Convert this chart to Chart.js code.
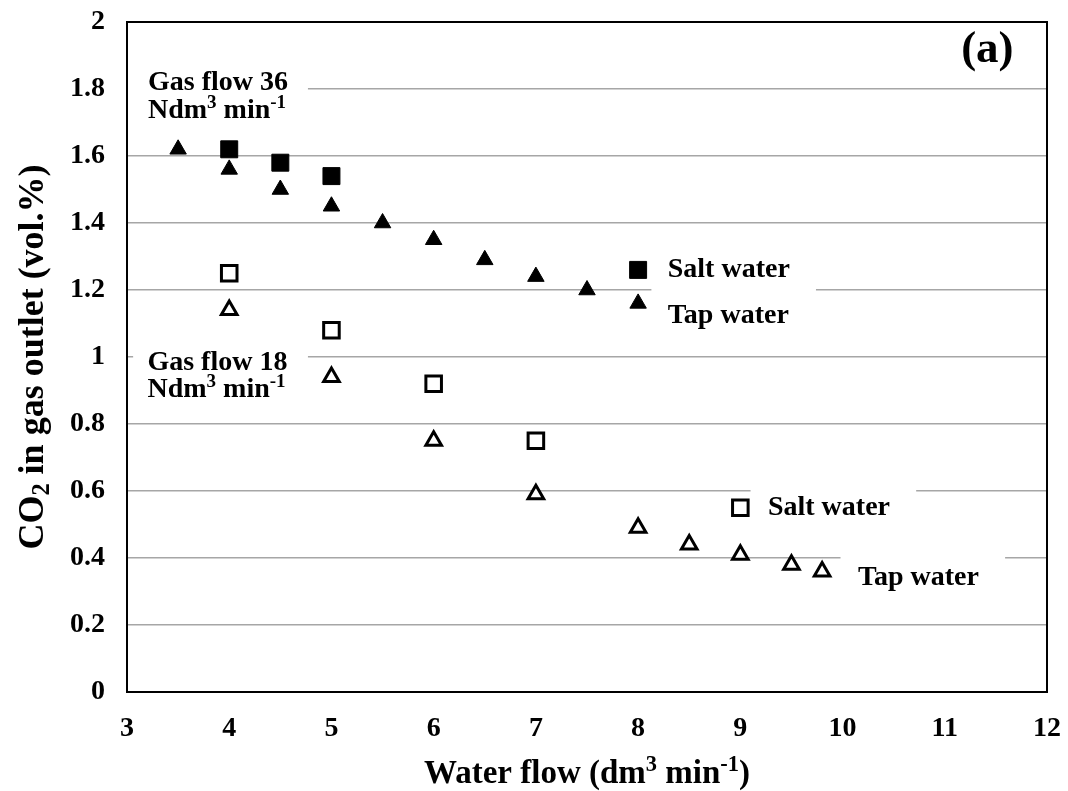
<!DOCTYPE html>
<html>
<head>
<meta charset="utf-8">
<script src="https://cdn.jsdelivr.net/npm/chart.js@4.4.1/dist/chart.umd.min.js"></script>
<style>
  html, body { margin: 0; padding: 0; background: #fff; }
</style>
</head>
<body>
<canvas id="c" width="1068" height="791"></canvas>
<script>
// values
// gas flow 36 Ndm3/min
var salt36X = [4, 4.5, 5];
var salt36Y = [1.62, 1.58, 1.54];
var tap36X = [3.5, 4, 4.5, 5, 5.5, 6, 6.5, 7, 7.5];
var tap36Y = [1.62, 1.56, 1.50, 1.45, 1.40, 1.35, 1.29, 1.24, 1.20];
// gas flow 18 Ndm3/min
var salt18X = [4, 5, 6, 7];
var salt18Y = [1.25, 1.08, 0.92, 0.75];
var tap18X = [4, 5, 6, 7, 8, 8.5, 9, 9.5, 9.8];
var tap18Y = [1.14, 0.94, 0.75, 0.59, 0.49, 0.44, 0.41, 0.38, 0.36];
// markers of the hand made keys
var keyFilledSquare = [8, 1.26];
var keyFilledTri = [8, 1.16];
var keyOpenSquare = [9, 0.55];

var xMin = 3, xMax = 12, xStep = 1;
var yMin = 0, yMax = 2, yStep = 0.2;

var FONT = '"Liberation Serif", "Times New Roman", serif';

function pts(xs, ys) {
    return xs.map(function(x, i) { return { x: x, y: ys[i] }; });
}

// text labels, anchored in data units (left x, baseline y)
var notes = [
    { x: 3.205, y: 1.797, size: 28, segs: [{ t: 'Gas flow 36' }] },
    { x: 3.205, y: 1.713, size: 28, segs: [{ t: 'Ndm' }, { t: '3', sup: 1 }, { t: ' min' }, { t: '-1', sup: 1 }] },
    { x: 3.2, y: 0.961, size: 28, segs: [{ t: 'Gas flow 18' }] },
    { x: 3.2, y: 0.881, size: 28, segs: [{ t: 'Ndm' }, { t: '3', sup: 1 }, { t: ' min' }, { t: '-1', sup: 1 }] },
    { x: 8.29, y: 1.239, size: 28, segs: [{ t: 'Salt water' }] },
    { x: 8.29, y: 1.101, size: 28, segs: [{ t: 'Tap water' }] },
    { x: 9.27, y: 0.528, size: 28, segs: [{ t: 'Salt water' }] },
    { x: 10.15, y: 0.319, size: 28, segs: [{ t: 'Tap water' }] },
    { x: 11.16, y: 1.881, size: 45, segs: [{ t: '(a)' }] }
];
// white boxes behind the labels (hide the gridlines)
var boxes = [
    [3.0, 4.77, 1.66, 1.88],
    [3.06, 4.77, 0.86, 1.07],
    [8.13, 9.74, 1.12, 1.30],
    [9.10, 10.72, 0.50, 0.63],
    [9.98, 11.59, 0.31, 0.45]
];

function drawRich(ctx, segs, x, y, size, align) {
    var w = 0;
    segs.forEach(function(s) {
        ctx.font = 'bold ' + (s.sup || s.sub ? size * 0.68 : size) + 'px ' + FONT;
        w += ctx.measureText(s.t).width;
    });
    var cx = align === 'center' ? x - w / 2 : x;
    ctx.textAlign = 'left';
    ctx.textBaseline = 'alphabetic';
    segs.forEach(function(s) {
        var sz = s.sup || s.sub ? size * 0.68 : size;
        ctx.font = 'bold ' + sz + 'px ' + FONT;
        var dy = s.sup ? -size * 0.36 : (s.sub ? size * 0.16 : 0);
        ctx.fillText(s.t, cx, y + dy);
        cx += ctx.measureText(s.t).width;
    });
}

var extras = {
    id: 'extras',
    beforeDatasetsDraw: function(chart) {
        var ctx = chart.ctx, xs = chart.scales.x, ys = chart.scales.y;
        ctx.save();
        ctx.fillStyle = '#fff';
        boxes.forEach(function(b) {
            var x0 = xs.getPixelForValue(b[0]), x1 = xs.getPixelForValue(b[1]);
            var y0 = ys.getPixelForValue(b[3]), y1 = ys.getPixelForValue(b[2]);
            ctx.fillRect(x0, y0, x1 - x0, y1 - y0);
        });
        ctx.restore();
    },
    afterDatasetsDraw: function(chart) {
        var ctx = chart.ctx, a = chart.chartArea, xs = chart.scales.x, ys = chart.scales.y;
        ctx.save();
        ctx.fillStyle = '#000';
        notes.forEach(function(n) {
            drawRich(ctx, n.segs, xs.getPixelForValue(n.x), ys.getPixelForValue(n.y), n.size, 'left');
        });
        // plot frame
        ctx.strokeStyle = '#000';
        ctx.lineWidth = 2;
        ctx.strokeRect(a.left, a.top, a.right - a.left, a.bottom - a.top);
        // axis titles
        drawRich(ctx, [{ t: 'Water flow (dm' }, { t: '3', sup: 1 }, { t: ' min' }, { t: '-1', sup: 1 }, { t: ')' }],
            (a.left + a.right) / 2, 783, 33, 'center');
        ctx.translate(43, (a.top + a.bottom) / 2);
        ctx.rotate(-Math.PI / 2);
        drawRich(ctx, [{ t: 'CO' }, { t: '2', sub: 1 }, { t: ' in gas outlet (vol.%)' }], 0, 0, 36, 'center');
        ctx.restore();
    }
};

var filled = { pointBackgroundColor: '#000', pointBorderColor: '#000', pointBorderWidth: 1 };
var open = { pointBackgroundColor: '#fff', pointBorderColor: '#000', pointBorderWidth: 3 };

function ds(label, data, style, shape, r) {
    return Object.assign({
        label: label,
        data: data,
        showLine: false,
        pointStyle: shape,
        pointRadius: r,
        pointHoverRadius: r
    }, style);
}

new Chart(document.getElementById('c'), {
    type: 'scatter',
    data: {
        datasets: [
            ds('Salt water 36', pts(salt36X, salt36Y).concat([{ x: keyFilledSquare[0], y: keyFilledSquare[1] }]), filled, 'rect', 12),
            ds('Tap water 36', pts(tap36X, tap36Y).concat([{ x: keyFilledTri[0], y: keyFilledTri[1] }]), filled, 'triangle', 9.5),
            ds('Salt water 18', pts(salt18X, salt18Y).concat([{ x: keyOpenSquare[0], y: keyOpenSquare[1] }]), open, 'rect', 11),
            ds('Tap water 18', pts(tap18X, tap18Y), open, 'triangle', 9)
        ]
    },
    options: {
        responsive: false,
        animation: false,
        events: [],
        layout: { padding: { top: 22, right: 21, left: 0, bottom: 0 } },
        plugins: { legend: { display: false }, tooltip: { enabled: false } },
        scales: {
            x: {
                type: 'linear',
                min: xMin, max: xMax,
                ticks: { stepSize: xStep, color: '#000', padding: 20, font: { family: FONT, size: 28, weight: 'bold' } },
                grid: { display: false, drawTicks: false },
                border: { display: false },
                afterFit: function(s) { s.height = 99; s.paddingLeft = 0; s.paddingRight = 0; }
            },
            y: {
                min: yMin, max: yMax,
                ticks: {
                    stepSize: yStep, color: '#000', padding: 22,
                    font: { family: FONT, size: 28, weight: 'bold' },
                    callback: function(v) { return String(+v.toFixed(1)); }
                },
                grid: { color: '#a6a6a6', lineWidth: 1.5, drawTicks: false },
                border: { display: false },
                afterFit: function(s) { s.width = 127; s.paddingTop = 0; s.paddingBottom = 0; }
            }
        }
    },
    plugins: [extras]
});
</script>
</body>
</html>
